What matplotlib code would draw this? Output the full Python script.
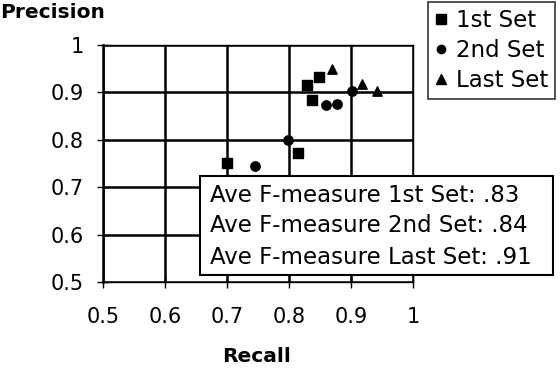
import matplotlib
matplotlib.use("Agg")
import matplotlib.pyplot as plt
from matplotlib.lines import Line2D
from matplotlib.patches import Rectangle

set1_recall = [0.70, 0.815, 0.829, 0.848, 0.837]
set1_prec = [0.752, 0.772, 0.915, 0.932, 0.883]
set2_recall = [0.745, 0.799, 0.860, 0.878, 0.902]
set2_prec = [0.745, 0.800, 0.873, 0.876, 0.904]
set3_recall = [0.870, 0.918, 0.942]
set3_prec = [0.950, 0.918, 0.902]
labels = ["1st Set", "2nd Set", "Last Set"]
fmeasure_text = ["Ave F-measure 1st Set: .83",
                 "Ave F-measure 2nd Set: .84",
                 "Ave F-measure Last Set: .91"]
ticks = [0.5, 0.6, 0.7, 0.8, 0.9, 1.0]
tick_labels = ["0.5", "0.6", "0.7", "0.8", "0.9", "1"]

plt.rcParams['font.family'] = ['DejaVu Sans']
W, H = 560, 368
fig = plt.figure(figsize=(5.6, 3.68), dpi=100)
ax = fig.add_axes([103/W, 1-282/H, 310/W, 237/H])
ax.set_xlim(0.5, 1.0)
ax.set_ylim(0.5, 1.0)
ax.set_xticks(ticks)
ax.set_yticks(ticks)
ax.set_xticklabels(tick_labels, fontsize=15)
ax.set_yticklabels(tick_labels, fontsize=15)
ax.tick_params(direction='inout', length=8, width=1, color='black')
ax.tick_params(axis='x', pad=14)
ax.tick_params(axis='y', pad=10)
ax.grid(True, color='black', linewidth=1.8)
ax.set_axisbelow(True)
for s in ['top', 'bottom', 'right']:
    ax.spines[s].set_linewidth(1.0)
ax.spines['left'].set_linewidth(1.8)

ax.scatter(set1_recall, set1_prec, marker='s', s=60, color='black', zorder=3)
ax.scatter(set2_recall, set2_prec, marker='o', s=45, color='black', zorder=3)
ax.scatter(set3_recall, set3_prec, marker='^', s=45, color='black', zorder=3)

fig.text(0.0, 1-12/H, "Precision", fontsize=14.5, fontweight='bold', va='center', ha='left')
fig.text(257/W, 1-356/H, "Recall", fontsize=14.5, fontweight='bold', va='center', ha='center')

handles = [Line2D([], [], marker='s', color='black', linestyle='none', markersize=7.5),
           Line2D([], [], marker='o', color='black', linestyle='none', markersize=6),
           Line2D([], [], marker='^', color='black', linestyle='none', markersize=7)]
leg = fig.legend(handles, labels, loc='upper right', bbox_to_anchor=(555/W, 1-2/H),
                 fontsize=16.5, frameon=True, fancybox=False, handlelength=0.5,
                 handletextpad=0.4, borderpad=0.3, labelspacing=0.3, edgecolor='black',
                 borderaxespad=0)
leg.get_frame().set_linewidth(1.2)

fig.patches.append(Rectangle((200/W, 1-275/H), 353/W, 99/H, transform=fig.transFigure,
                             facecolor='white', edgecolor='black', linewidth=1.5, zorder=9))
for i, t in enumerate(fmeasure_text):
    fig.text(210/W, 1-(195 + 31*i)/H, t, fontsize=16.5, va='center', ha='left', zorder=10)

fig.savefig("out.png", dpi=100)
